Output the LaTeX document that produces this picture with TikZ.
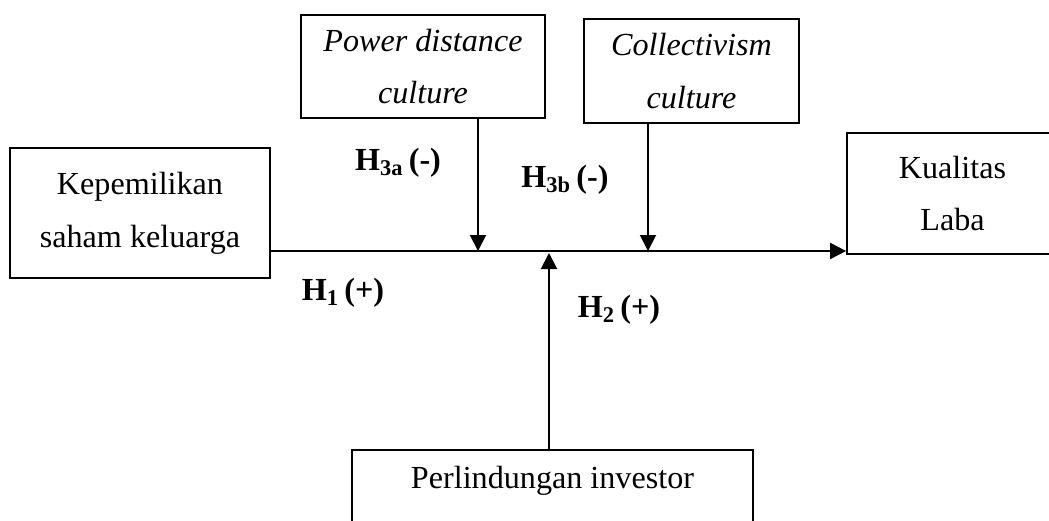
\documentclass[tikz,border=0pt]{standalone}
\usepackage{fontspec}
\setmainfont{Liberation Serif}
\usetikzlibrary{positioning, arrows.meta}
\tikzset{varbox/.style={draw, line width=1pt, align=center,
                        font=\fontsize{18.3}{30}\selectfont},
         hyp/.style={font=\fontsize{18.3}{22}\selectfont\bfseries},
         link/.style={line width=1.1pt, -{Triangle[length=0.32cm, width=0.32cm]}}}

\begin{document}
\begin{tikzpicture}[x=0.02cm, y=-0.02cm]

        \clip (0,0) rectangle (1049,521);

        % Nodes
        \node[varbox, minimum width=5.2cm, minimum height=2.6cm] (fam) at (140,213) {Kepemilikan\\saham keluarga};
        \node[varbox, minimum width=4.88cm, minimum height=2.06cm] (pd) at (423,66.5) {\itshape Power distance\\\itshape culture};
        \node[varbox, minimum width=4.3cm, minimum height=2.08cm] (col) at (691.5,71) {\itshape Collectivism\\\itshape culture};
        \node[varbox, minimum width=4.22cm, minimum height=2.42cm] (eq) at (952.5,193.5) {Kualitas\\Laba};
        \node[varbox, anchor=north, minimum width=8.02cm, inner ysep=0pt,
              text height=0.78cm, text depth=1.6cm] (inv) at (552.5,449) {Perlindungan investor};

        \coordinate (m1) at (478,251);
        \coordinate (m2) at (648,251);
        \coordinate (m3) at (549,253);

        % Labels
        \node[hyp] (h3a) at (398,163) {H\textsubscript{3a}\,(-)};
        \node[hyp] (h3b) at (565,180) {H\textsubscript{3b}\,(-)};
        \node[hyp] (h1) at (343,293) {H\textsubscript{1}\,(+)};
        \node[hyp] (h2) at (619,310) {H\textsubscript{2}\,(+)};

        % Edges
        \draw[link] (fam.east |- m1) -- (eq.west |- m1);
        \draw[link] (pd.south -| m1) -- (m1);
        \draw[link] (col.south -| m2) -- (m2);
        \draw[link] (inv.north -| m3) -- (m3);

\end{tikzpicture}
\end{document}
